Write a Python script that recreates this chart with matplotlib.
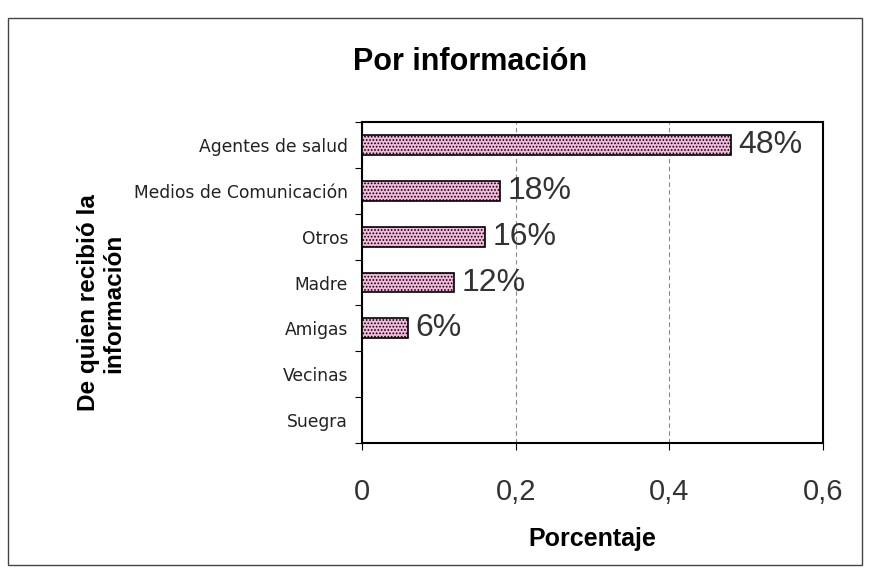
import matplotlib.pyplot as plt
from matplotlib.patches import Rectangle
import matplotlib as mpl

categories = ["Agentes de salud", "Medios de Comunicación", "Otros", "Madre",
              "Amigas", "Vecinas", "Suegra"]
values = [0.48, 0.18, 0.16, 0.12, 0.06, 0.0, 0.0]
labels = ["48%", "18%", "16%", "12%", "6%", "", ""]
xticks = [0, 0.2, 0.4, 0.6]
xticklabels = ["0", "0,2", "0,4", "0,6"]

plt.rcParams['font.family'] = ['Liberation Sans', 'DejaVu Sans']
mpl.rcParams['hatch.color'] = '#7a3a60'
mpl.rcParams['hatch.linewidth'] = 0.8

fig = plt.figure(figsize=(8.7, 5.69), dpi=100)
ax = fig.add_axes([362 / 870, 1 - 443 / 569, (823 - 362) / 870, (443 - 122) / 569])

# outer frame of the chart
fig.patches.append(Rectangle((8 / 870, 1 - 565 / 569), 854 / 870, 547 / 569,
                             transform=fig.transFigure, fill=False,
                             edgecolor='#444444', linewidth=1.0))

pos = list(range(len(categories)))[::-1]
bars = ax.barh(pos, values, height=0.43, color='#f4b8dc', edgecolor='black',
               linewidth=1.2, hatch='.....', zorder=3)
for b, v, lab in zip(bars, values, labels):
    if lab:
        ax.text(v + 0.01, b.get_y() + b.get_height() / 2, lab, va='center',
                ha='left', fontsize=23, color='#333333')

ax.set_xlim(0, 0.6)
ax.set_ylim(-0.5, len(categories) - 0.5)
ax.set_xticks(xticks)
ax.set_xticklabels(xticklabels, fontsize=21, color='#333333')
# tick marks between categories, labels at category centres
ax.set_yticks([p - 0.5 for p in range(len(categories) + 1)])
ax.set_yticklabels([])
ax.set_yticks(pos, minor=True)
ax.set_yticklabels(categories, minor=True, fontsize=12.3, color='#222222',
                   family='DejaVu Sans')
ax.tick_params(axis='x', length=5, pad=20)
ax.tick_params(axis='y', which='major', length=5)
ax.tick_params(axis='y', which='minor', length=0, pad=10)
ax.xaxis.grid(True, color='#888888', linestyle=(0, (4, 3)), linewidth=0.8, zorder=0)
for s in ax.spines.values():
    s.set_linewidth(1.5)

ax.set_xlabel("Porcentaje", fontsize=18, fontweight='bold', labelpad=15)
fig.text(101 / 870, 1 - 303 / 569, "De quien recibió la\ninformación", rotation=90,
         ha='center', va='center', fontsize=17.5, fontweight='bold', linespacing=1.15)
fig.text(470 / 870, 1 - 62 / 569, "Por información", ha='center', va='center',
         fontsize=22, fontweight='bold')

fig.savefig("out.png", dpi=100)
